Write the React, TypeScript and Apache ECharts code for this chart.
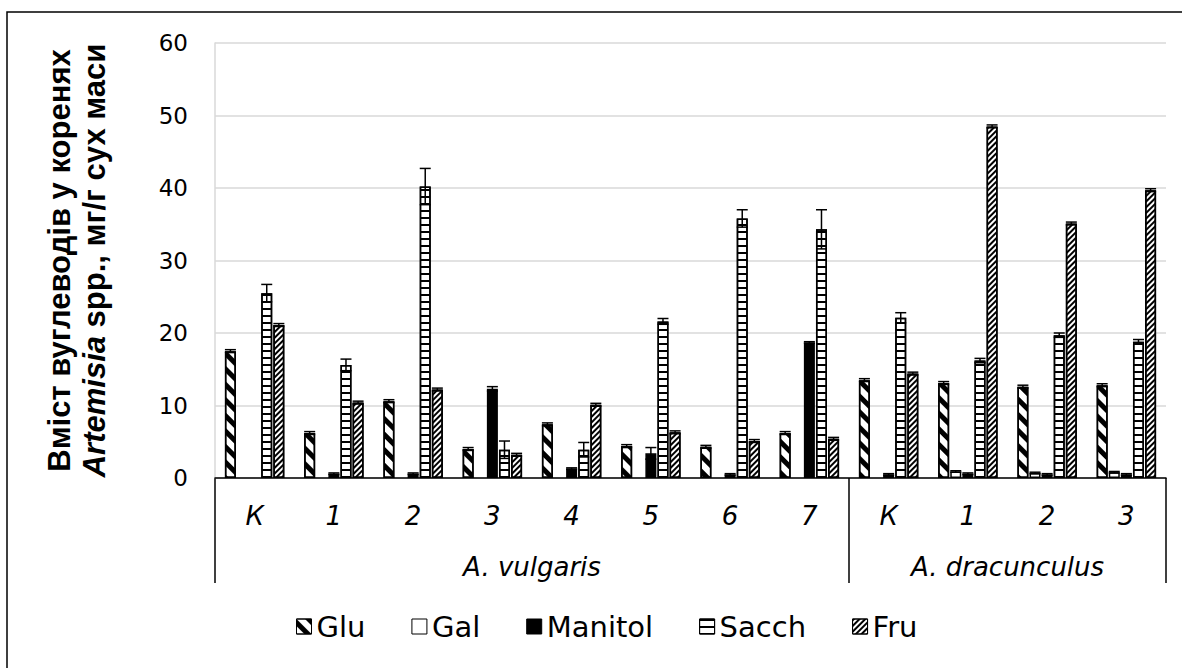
import React, { useEffect, useRef } from "react";
import * as echarts from "echarts";

const categories = ["К", "1", "2", "3", "4", "5", "6", "7", "К", "1", "2", "3"];
const groupLabels = ["A. vulgaris", "A. dracunculus"];
const groupSizes = [8, 4];
const seriesNames = ["Glu", "Gal", "Manitol", "Sacch", "Fru"];

const glu = [17.5, 6.2, 10.6, 4.0, 7.4, 4.4, 4.3, 6.2, 13.5, 13.1, 12.6, 12.8];
const gluErr = [0.2, 0.2, 0.2, 0.2, 0.2, 0.2, 0.2, 0.2, 0.2, 0.2, 0.2, 0.2];
const gal = [null, null, null, null, null, null, null, null, null, 0.9, 0.7, 0.8];
const galErr = [null, null, null, null, null, null, null, null, null, 0.1, 0.1, 0.1];
const man = [null, 0.6, 0.6, 12.3, 1.3, 3.4, 0.5, 18.7, 0.5, 0.6, 0.5, 0.5];
const manErr = [null, 0.1, 0.1, 0.3, 0.1, 0.8, 0.1, 0.1, 0.1, 0.1, 0.1, 0.1];
const sacch = [25.5, 15.6, 40.2, 3.9, 3.9, 21.6, 35.8, 34.3, 22.1, 16.2, 19.7, 18.8];
const sacchErr = [1.2, 0.8, 2.5, 1.2, 1.0, 0.4, 1.2, 2.7, 0.7, 0.3, 0.3, 0.3];
const fru = [21.1, 10.4, 12.2, 3.2, 10.1, 6.3, 5.1, 5.4, 14.4, 48.5, 35.1, 39.7];
const fruErr = [0.2, 0.2, 0.2, 0.2, 0.2, 0.2, 0.2, 0.2, 0.2, 0.2, 0.2, 0.2];

const yTicks = { min: 0, max: 60, interval: 10 };

const values = [glu, gal, man, sacch, fru];
const errors = [gluErr, galErr, manErr, sacchErr, fruErr];

const CAT_GAP = 0.25;
const BAR_GAP = 0.1;

const decals: any[] = [
  { symbol: "rect", symbolSize: 1, dashArrayX: [1, 0], dashArrayY: [5, 6], rotation: Math.PI / 4, color: "#000" },
  null,
  null,
  { symbol: "rect", symbolSize: 1, dashArrayX: [1, 0], dashArrayY: [2, 5], rotation: 0, color: "#000" },
  { symbol: "rect", symbolSize: 1, dashArrayX: [1, 0], dashArrayY: [2, 2], rotation: -Math.PI / 4, color: "#000" },
];
const fills = ["#fff", "#fff", "#000", "#fff", "#fff"];

export default function App() {
  const ref = useRef<HTMLDivElement>(null);
  useEffect(() => {
    if (!ref.current) return;
    const chart = echarts.init(ref.current, undefined, { renderer: "svg" });
    const n = seriesNames.length;

    const barSeries = seriesNames.map((name, k) => ({
      name,
      type: "bar",
      data: values[k],
      barCategoryGap: CAT_GAP * 100 + "%",
      barGap: BAR_GAP * 100 + "%",
      itemStyle: {
        color: fills[k],
        borderColor: "#000",
        borderWidth: 1.5,
        decal: decals[k] || undefined,
      },
      z: 2,
    }));

    const errSeries = seriesNames.map((name, k) => ({
      name: name + "_err",
      type: "custom",
      z: 5,
      silent: true,
      data: values[k]
        .map((v, i) => (v == null || errors[k][i] == null ? null : [i, v, errors[k][i]]))
        .filter((d) => d != null),
      encode: { x: 0, y: 1 },
      renderItem: (params: any, api: any) => {
        const cat = api.value(0);
        const v = api.value(1);
        const e = api.value(2);
        const band = api.size([1, 0])[0];
        const total = band * (1 - CAT_GAP);
        const w = total / (n + (n - 1) * BAR_GAP);
        const off = -total / 2 + k * w * (1 + BAR_GAP) + w / 2;
        const c = api.coord([cat, v]);
        const hi = api.coord([cat, v + e]);
        const lo = api.coord([cat, v - e]);
        const x = c[0] + off;
        const hw = w / 2;
        const st = { stroke: "#000", lineWidth: 1.5 };
        return {
          type: "group",
          children: [
            { type: "line", shape: { x1: x, y1: hi[1], x2: x, y2: lo[1] }, style: st },
            { type: "line", shape: { x1: x - hw, y1: hi[1], x2: x + hw, y2: hi[1] }, style: st },
            { type: "line", shape: { x1: x - hw, y1: lo[1], x2: x + hw, y2: lo[1] }, style: st },
          ],
        };
      },
    }));

    chart.setOption({
      animation: false,
      backgroundColor: "#fff",
      grid: { left: 215, right: 16, top: 43, bottom: 190, containLabel: false },
      legend: {
        data: seriesNames.map((s) => ({ name: s, icon: "rect" })),
        left: 296,
        top: 612,
        itemWidth: 15,
        itemHeight: 15,
        itemGap: 46,
        padding: 0,
        textStyle: { fontFamily: "DejaVu Sans", fontSize: 29, color: "#000" },
        itemStyle: { borderColor: "#000", borderWidth: 1 },
      },
      xAxis: {
        type: "category",
        data: categories,
        axisLine: { lineStyle: { color: "#000", width: 1.5 } },
        axisTick: { show: false },
        axisLabel: {
          fontFamily: "DejaVu Sans",
          fontStyle: "italic",
          fontSize: 26,
          color: "#000",
          margin: 25,
        },
      },
      yAxis: {
        type: "value",
        min: yTicks.min,
        max: yTicks.max,
        interval: yTicks.interval,
        axisLine: { show: true, lineStyle: { color: "#d9d9d9", width: 1.5 } },
        axisTick: { show: false },
        splitLine: { lineStyle: { color: "#d9d9d9", width: 1.5 } },
        axisLabel: { fontFamily: "DejaVu Sans", fontSize: 23, color: "#000", margin: 27 },
        name: "{b|Вміст вуглеводів у коренях}\n{bi|Artemisia}{b| spp., мг/г сух маси}",
        nameLocation: "middle",
        nameRotate: 90,
        nameGap: 103,
        nameTextStyle: {
          rich: {
            b: { fontFamily: "Liberation Sans", fontWeight: "bold", fontSize: 31, color: "#000", lineHeight: 35 },
            bi: { fontFamily: "Liberation Sans", fontWeight: "bold", fontStyle: "italic", fontSize: 31, color: "#000", lineHeight: 35 },
          },
        },
      },
      series: [...barSeries, ...errSeries],
    });

    // multi-level category decorations, positioned through the axis scale
    const px0 = chart.convertToPixel({ xAxisIndex: 0 }, 0) as number;
    const px1 = chart.convertToPixel({ xAxisIndex: 0 }, 1) as number;
    const band = px1 - px0;
    const y0 = chart.convertToPixel({ yAxisIndex: 0 }, 0) as number;
    const boundary = (i: number) => px0 - band / 2 + i * band;
    const graphics: any[] = [];
    let start = 0;
    const bounds = [0];
    groupSizes.forEach((s) => {
      start += s;
      bounds.push(start);
    });
    bounds.forEach((b) => {
      graphics.push({
        type: "line",
        shape: { x1: boundary(b), y1: y0, x2: boundary(b), y2: y0 + 105 },
        style: { stroke: "#000", lineWidth: 1.5 },
      });
    });
    groupLabels.forEach((g, gi) => {
      const cx = (boundary(bounds[gi]) + boundary(bounds[gi + 1])) / 2;
      graphics.push({
        type: "text",
        x: cx,
        y: y0 + 89,
        style: {
          text: g,
          fontFamily: "DejaVu Sans",
          fontStyle: "italic",
          fontSize: 26,
          fill: "#000",
          align: "center",
          verticalAlign: "middle",
        },
      });
    });
    graphics.push({
      type: "rect",
      shape: { x: 7, y: 12, width: 1200, height: 700 },
      style: { fill: "none", stroke: "#000", lineWidth: 1.5 },
      silent: true,
    });
    chart.setOption({ graphic: graphics });

    return () => chart.dispose();
  }, []);
  return (
    <div
      ref={ref}
      style={{ position: "fixed", left: 0, top: 0, width: 1182, height: 668 }}
    />
  );
}
